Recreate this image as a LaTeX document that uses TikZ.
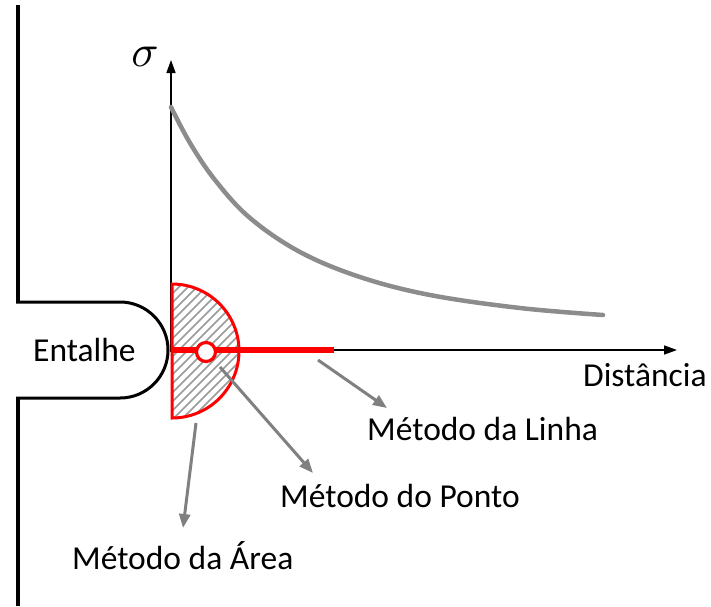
\documentclass[tikz,border=0pt]{standalone}
\usepackage{fontspec}
\setmainfont{Carlito}
\usetikzlibrary{arrows.meta}
\definecolor{cgray}{HTML}{8C8C8C}
\definecolor{agray}{HTML}{808080}
\definecolor{cred}{HTML}{FF0000}
\tikzset{
  wall/.style={line width=4pt, black},
  notch/.style={line width=3pt, black},
  axis/.style={line width=1.6pt, black, -{Triangle[length=13pt,width=9pt]}},
  pointer/.style={line width=3pt, agray, -{Triangle[length=14pt,width=11pt]}},
  lbl/.style={font=\fontsize{33.5pt}{36pt}\selectfont, inner sep=0pt, anchor=base west},
}
\begin{document}
\begin{tikzpicture}[x=1pt, y=1pt, yscale=-1]
\useasboundingbox (0,0) rectangle (711,606);
% wall with notch
\draw[wall] (18,5) -- (18,302);
\draw[wall] (18,398) -- (18,606);
\draw[notch] (16,302) -- (120,302) arc[start angle=-90, end angle=90, radius=48] -- (16,398);
% hatched semicircle
\begin{scope}
  \clip (172,284) arc[start angle=-90, end angle=90, radius=67] -- cycle;
  \foreach \k in {-20,...,20} {
    \draw[line width=1.6pt, agray!80] (172+\k*9,420) -- ++(140,-140);
  }
\end{scope}
% axes
\coordinate (O) at (171,350);
\coordinate (ytip) at (171,60);
\coordinate (xtip) at (677,350);
\draw[axis] (171,352) -- (ytip);
\draw[axis] (170,350) -- (xtip);
\node[scale=4.5, inner sep=0pt] (sig) at (145,57) {$\sigma$};
% stress curve
\draw[line width=4.5pt, cgray, line cap=round] plot[smooth, tension=0.6] coordinates {
  (171,107) (190,143) (215,180) (250,218) (300,252) (360,277) (430,295) (520,308) (603,315)};
% red semicircle outline
\draw[line width=3pt, cred] (172,284) arc[start angle=-90, end angle=90, radius=67] -- cycle;
% red line
\draw[line width=6pt, cred] (172,350) -- (334,350);
% red point
\node[circle, draw=cred, line width=3.2pt, fill=white, minimum size=19pt, inner sep=0pt] (pt) at (206,352) {};
% labels
\node[lbl] (ent) at (33,361) {Entalhe};
\node[lbl] (dist) at (583,386) {Distância};
\node[lbl] (linha) at (367,440) {Método da Linha};
\node[lbl] (ponto) at (280,507) {Método do Ponto};
\node[lbl] (area) at (72,569) {Método da Área};
% pointers
\coordinate (l1) at (318,360); \coordinate (l2) at (387,408);
\coordinate (p1) at (220,367); \coordinate (p2) at (313,473);
\coordinate (a1) at (196,423); \coordinate (a2) at (183,528);
\draw[pointer] (l1) -- (l2);
\draw[pointer] (p1) -- (p2);
\draw[pointer] (a1) -- (a2);
\end{tikzpicture}
\end{document}
